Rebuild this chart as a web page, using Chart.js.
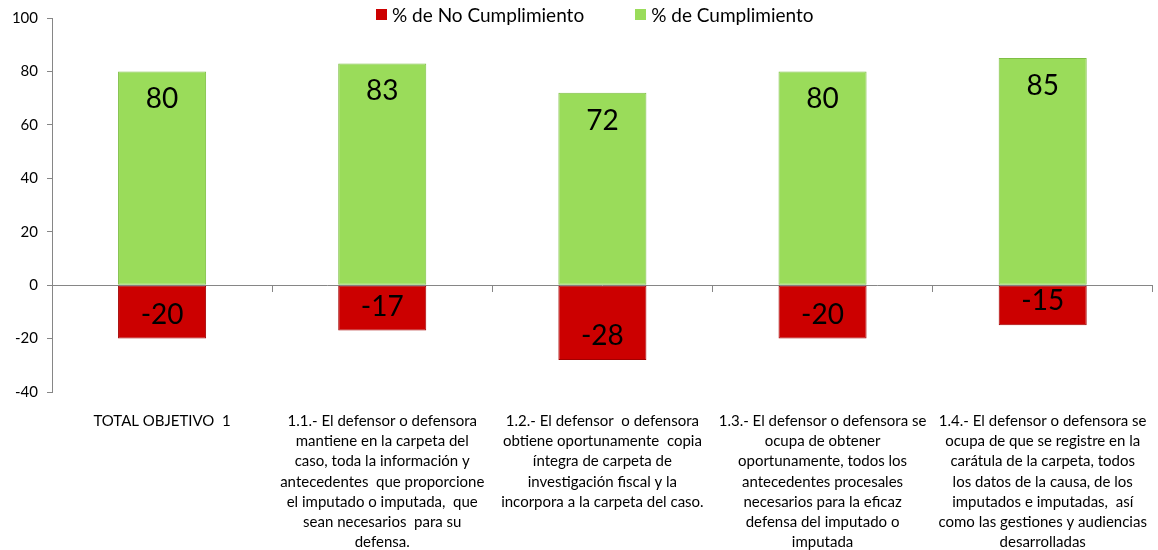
<!DOCTYPE html>
<html>
<head>
<meta charset="utf-8">
<script src="https://cdn.jsdelivr.net/npm/chart.js@4/dist/chart.umd.min.js"></script>
<style>
  body { margin: 0; background: #fff; font-family: Lato, "Noto Sans", sans-serif; }
  #wrap { position: relative; width: 1158px; height: 550px; }
  #legend { position: absolute; top: 3px; left: 376px; display: flex; font-size: 19px; color: #000; }
  #legend span.item { display: flex; align-items: center; margin-right: 51px; }
  #legend span.box { width: 11px; height: 11px; margin-right: 5px; }
</style>
</head>
<body>
<div id="wrap">
  <canvas id="myChart" width="1158" height="550"></canvas>
  <div id="legend"></div>
</div>
<script>
// categorias (etiquetas del eje x, ya partidas en lineas)
const categories = [
    ['TOTAL OBJETIVO  1'],
    ['1.1.- El defensor o defensora', 'mantiene en la carpeta del', 'caso, toda la información y', 'antecedentes  que proporcione', 'el imputado o imputada,  que', 'sean necesarios  para su', 'defensa.'],
    ['1.2.- El defensor  o defensora', 'obtiene oportunamente  copia', 'íntegra de carpeta de', 'investigación fiscal y la', 'incorpora a la carpeta del caso.'],
    ['1.3.- El defensor o defensora se', 'ocupa de obtener', 'oportunamente, todos los', 'antecedentes procesales', 'necesarios para la eficaz', 'defensa del imputado o', 'imputada'],
    ['1.4.- El defensor o defensora se', 'ocupa de que se registre en la', 'carátula de la carpeta, todos', 'los datos de la causa, de los', 'imputados e imputadas,  así', 'como las gestiones y audiencias', 'desarrolladas']
];

const noCumplimiento = [-20, -17, -28, -20, -15];
const cumplimiento = [80, 83, 72, 80, 85];

const yTicks = [100, 80, 60, 40, 20, 0, -20, -40];

const FONT = 'Lato, "Noto Sans", sans-serif';

// etiquetas grandes dentro de las barras
const barLabels = {
    id: 'barLabels',
    afterDatasetsDraw(chart) {
        const ctx = chart.ctx;
        ctx.save();
        ctx.font = '28px ' + FONT;
        ctx.fillStyle = '#000';
        ctx.textAlign = 'center';
        ctx.textBaseline = 'middle';
        chart.data.datasets.forEach((ds, i) => {
            chart.getDatasetMeta(i).data.forEach((bar, j) => {
                const v = ds.data[j];
                const y = v >= 0 ? bar.y + 28 : bar.y - 24;
                ctx.fillText(String(v), bar.x, y);
            });
        });
        ctx.restore();
    }
};

const ctx = document.getElementById('myChart');

const chart = new Chart(ctx, {
    type: 'bar',
    data: {
        labels: categories,
        datasets: [{
            label: '% de No Cumplimiento',
            data: noCumplimiento,
            backgroundColor: '#cc0000',
            borderColor: '#a30000',
            borderWidth: 1,
            borderSkipped: false
        }, {
            label: '% de Cumplimiento',
            data: cumplimiento,
            backgroundColor: '#9adc5a',
            borderColor: '#7fbf45',
            borderWidth: 1,
            borderSkipped: false
        }]
    },
    options: {
        responsive: false,
        animation: false,
        layout: { padding: { top: 7, right: 1, left: 0, bottom: 0 } },
        datasets: { bar: { categoryPercentage: 1, barPercentage: 0.4 } },
        plugins: {
            legend: { display: false },
            tooltip: { enabled: false }
        },
        scales: {
            x: {
                stacked: true,
                grid: { display: false },
                border: { display: false },
                ticks: {
                    color: '#000',
                    font: { family: FONT, size: 15, lineHeight: 1.35 },
                    padding: 11,
                    maxRotation: 0,
                    autoSkip: false
                },
                afterFit: (scale) => { scale.height = 158; }
            },
            // eje en el cero, solo linea y marcas
            x2: {
                position: { y: 0 },
                labels: categories,
                ticks: { display: false },
                grid: { drawOnChartArea: false, drawTicks: true, tickLength: 6, color: '#868686' },
                border: { display: true, color: '#868686' }
            },
            y: {
                stacked: true,
                min: -40,
                max: 100,
                afterBuildTicks: (scale) => { scale.ticks = yTicks.map(v => ({ value: v })); },
                grid: { drawOnChartArea: false, drawTicks: true, tickLength: 5, tickColor: '#868686' },
                border: { display: true, color: '#868686' },
                ticks: {
                    color: '#000',
                    font: { family: FONT, size: 15 },
                    padding: 9
                },
                afterFit: (scale) => { scale.width = 52; }
            }
        }
    },
    plugins: [barLabels]
});

// leyenda en html con los datos del grafico
const legend = document.getElementById('legend');
chart.data.datasets.forEach(ds => {
    const item = document.createElement('span');
    item.className = 'item';
    const box = document.createElement('span');
    box.className = 'box';
    box.style.background = ds.backgroundColor;
    item.appendChild(box);
    item.appendChild(document.createTextNode(ds.label));
    legend.appendChild(item);
});
</script>
</body>
</html>
